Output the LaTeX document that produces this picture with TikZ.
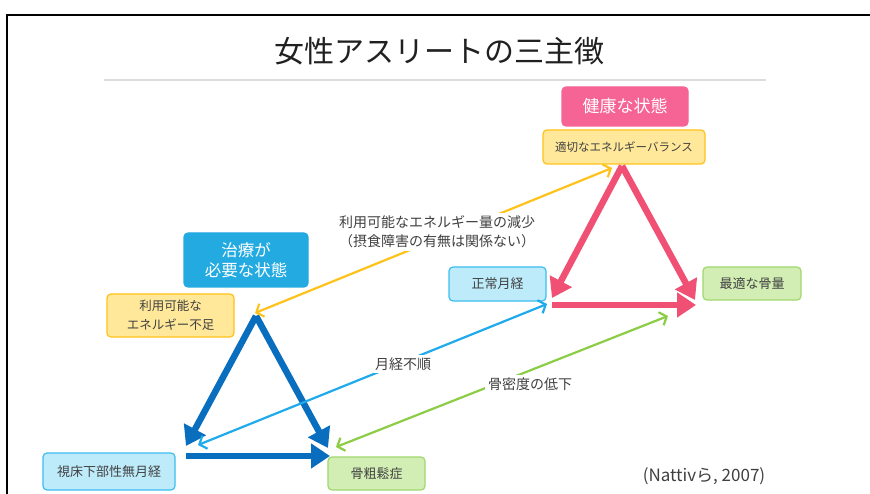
\documentclass[tikz,border=0pt]{standalone}
\usepackage{fontspec}
\setmainfont{Noto Sans CJK JP}
\usetikzlibrary{arrows.meta}

\begin{document}
\begin{tikzpicture}[x=1pt,y=-1pt,line cap=rect,
  box/.style={draw, rounded corners=4pt, line width=1.2pt, inner sep=0, align=center, text=custcol_40_40_40},
  lbl/.style={fill=white, inner sep=3pt, align=center, text=custcol_40_40_40},
  fat/.style={line width=6.5pt, line cap=butt, -{Triangle[length=19pt,width=24pt]}},
  thin/.style={line width=2.2pt, line cap=butt, {Straight Barb[length=6pt,width=14pt]}-{Straight Barb[length=6pt,width=14pt]}}]
\useasboundingbox (0,0) rectangle (870,494);
\definecolor{custcol_20_20_20}{RGB}{32, 32, 32}
\definecolor{custcol_40_40_40}{RGB}{64, 64, 64}
\definecolor{custcol_dd_dd_dd}{RGB}{221, 221, 221}
\definecolor{custcol_f6_64_96}{RGB}{246, 100, 150}
\definecolor{custcol_f0_50_73}{RGB}{240, 80, 115}
\definecolor{custcol_ff_e8_9a}{RGB}{255, 232, 154}
\definecolor{custcol_ff_c2_1a}{RGB}{255, 194, 26}
\definecolor{custcol_23_aa_e1}{RGB}{35, 170, 225}
\definecolor{custcol_be_eb_fa}{RGB}{190, 235, 250}
\definecolor{custcol_3c_be_f0}{RGB}{60, 190, 240}
\definecolor{custcol_1e_aa_eb}{RGB}{30, 170, 235}
\definecolor{custcol_0a_6e_be}{RGB}{10, 110, 190}
\definecolor{custcol_d2_ee_b4}{RGB}{210, 238, 180}
\definecolor{custcol_a0_d7_6e}{RGB}{160, 215, 110}
\definecolor{custcol_8c_cd_46}{RGB}{140, 205, 70}
\draw [line width=2.5pt, black] (7,494) -- (7,15) -- (870,15);
\node[text=custcol_20_20_20, font=\fontsize{30pt}{30pt}\selectfont] (title) at (439,51) {女性アスリートの三主徴};
\draw [line width=1.5pt, custcol_dd_dd_dd] (105,80) -- (765,80);
\node[box, draw=custcol_f6_64_96, fill=custcol_f6_64_96, text=white, minimum width=126pt, minimum height=39pt, font=\fontsize{17pt}{20pt}\selectfont] (healthy) at (625,106.5) {健康な状態};
\node[box, draw=custcol_ff_c2_1a, fill=custcol_ff_e8_9a, minimum width=162pt, minimum height=34pt, font=\fontsize{11.5pt}{15pt}\selectfont] (balance) at (624,147) {適切なエネルギーバランス};
\node[box, draw=custcol_23_aa_e1, fill=custcol_23_aa_e1, text=white, minimum width=124pt, minimum height=54pt, font=\fontsize{16.5pt}{20pt}\selectfont] (treat) at (246,260) {治療が\\必要な状態};
\node[box, draw=custcol_ff_c2_1a, fill=custcol_ff_e8_9a, minimum width=127pt, minimum height=43pt, font=\fontsize{12.5pt}{19pt}\selectfont] (shortage) at (170.5,315.5) {利用可能な\\エネルギー不足};
\node[box, draw=custcol_3c_be_f0, fill=custcol_be_eb_fa, minimum width=97pt, minimum height=34pt, font=\fontsize{13pt}{16pt}\selectfont] (normal) at (497.5,284) {正常月経};
\node[box, draw=custcol_a0_d7_6e, fill=custcol_d2_ee_b4, minimum width=98pt, minimum height=33pt, font=\fontsize{13pt}{16pt}\selectfont] (optimal) at (752,283.5) {最適な骨量};
\node[box, draw=custcol_3c_be_f0, fill=custcol_be_eb_fa, minimum width=132pt, minimum height=37pt, font=\fontsize{13pt}{16pt}\selectfont] (amenorrhea) at (109,471.5) {視床下部性無月経};
\node[box, draw=custcol_a0_d7_6e, fill=custcol_d2_ee_b4, minimum width=97pt, minimum height=33pt, font=\fontsize{13pt}{16pt}\selectfont] (osteo) at (376.5,473.5) {骨粗鬆症};
\node[text=custcol_40_40_40, font=\fontsize{17pt}{20pt}\selectfont] (source) at (704,476) {(Nattivら, 2007)};
\coordinate (pinkTop) at (622,166);
\coordinate (pinkL) at (552,298);
\coordinate (pinkR) at (695,300);
\coordinate (pinkBL) at (552,305);
\coordinate (pinkBR) at (696,305);
\coordinate (blueTop) at (256,316);
\coordinate (blueL) at (186,446);
\coordinate (blueR) at (328,448);
\coordinate (blueBL) at (186,456);
\coordinate (blueBR) at (330,456);
\coordinate (energyA) at (612,168);
\coordinate (energyB) at (255,313);
\coordinate (mensA) at (547,304);
\coordinate (mensB) at (198,445);
\coordinate (boneA) at (668,316);
\coordinate (boneB) at (336,447);
\draw [fat, custcol_f0_50_73] (pinkTop) -- (pinkL);
\draw [fat, custcol_f0_50_73] (pinkTop) -- (pinkR);
\draw [fat, custcol_f0_50_73] (pinkBL) -- (pinkBR);
\draw [fat, custcol_0a_6e_be] (blueTop) -- (blueL);
\draw [fat, custcol_0a_6e_be] (blueTop) -- (blueR);
\draw [fat, custcol_0a_6e_be] (blueBL) -- (blueBR);
\draw [thin, custcol_ff_c2_1a] (energyA) -- (energyB);
\draw [thin, custcol_1e_aa_eb] (mensA) -- (mensB);
\draw [thin, custcol_8c_cd_46] (boneA) -- (boneB);
\node[lbl, font=\fontsize{14pt}{19pt}\selectfont] (energyLbl) at (437,232) {利用可能なエネルギー量の減少\\（摂食障害の有無は関係ない）};
\node[lbl, font=\fontsize{14pt}{18pt}\selectfont] (mensLbl) at (403,364) {月経不順};
\node[lbl, font=\fontsize{14pt}{18pt}\selectfont] (boneLbl) at (530,384) {骨密度の低下};
\end{tikzpicture}
\end{document}
